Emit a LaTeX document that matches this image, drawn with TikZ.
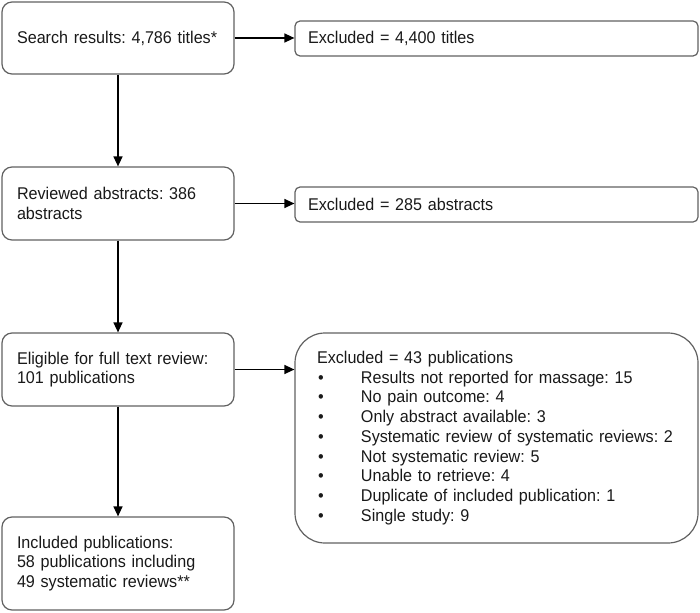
\documentclass[tikz,border=0pt]{standalone}
\usepackage{fontspec}
\setmainfont{Liberation Sans}[FakeStretch=0.95]
\usetikzlibrary{arrows.meta}
\begin{document}
\frenchspacing
\begin{tikzpicture}[x=1pt,y=-1pt,
  every node/.style={font=\fontsize{17}{19.7}\selectfont, text=black!90},
  mainbox/.style={draw=black!62, line width=1.2pt, rounded corners=10pt,
    minimum width=232pt, text width=202pt, inner xsep=15pt, align=left},
  exbox/.style={draw=black!62, line width=1.2pt, rounded corners=5pt,
    minimum width=403pt, minimum height=35pt, text width=377pt, inner xsep=13pt, align=left},
  bigbox/.style={draw=black!62, line width=1.2pt, rounded corners=30pt,
    minimum width=403pt, minimum height=210pt, text width=359pt, inner xsep=22pt, align=left},
  arr/.style={draw=black, line width=1.4pt, -{Triangle[length=10pt,width=9pt]}}
]
\useasboundingbox (0,0) rectangle (700,612);
\node[mainbox, minimum height=72pt] (b1) at (118,38) {Search results: 4,786 titles*};
\node[mainbox, minimum height=73pt] (b2) at (118,203.5) {Reviewed abstracts: 386\\abstracts};
\node[mainbox, minimum height=73pt] (b3) at (118,369.5) {Eligible for full text review:\\101 publications};
\node[mainbox, minimum height=93pt] (b4) at (118,563.5) {Included publications:\\58 publications including\\49 systematic reviews**};
\node[exbox] (e1) at (496.5,38.5) {Excluded = 4,400 titles};
\node[exbox] (e2) at (496.5,204.5) {Excluded = 285 abstracts};
\node[bigbox] (e3) at (496.5,438) {Excluded = 43 publications\\
\hspace*{1pt}\makebox[43pt][l]{•}Results not reported for massage: 15\\
\hspace*{1pt}\makebox[43pt][l]{•}No pain outcome: 4\\
\hspace*{1pt}\makebox[43pt][l]{•}Only abstract available: 3\\
\hspace*{1pt}\makebox[43pt][l]{•}Systematic review of systematic reviews: 2\\
\hspace*{1pt}\makebox[43pt][l]{•}Not systematic review: 5\\
\hspace*{1pt}\makebox[43pt][l]{•}Unable to retrieve: 4\\
\hspace*{1pt}\makebox[43pt][l]{•}Duplicate of included publication: 1\\
\hspace*{1pt}\makebox[43pt][l]{•}Single study: 9};
\draw[arr] (b1.south) -- (b2.north);
\draw[arr] (b2.south) -- (b3.north);
\draw[arr] (b3.south) -- (b4.north);
\draw[arr] (b1.east) -- (b1.east -| e1.west);
\draw[arr] (b2.east) -- (b2.east -| e2.west);
\draw[arr] (b3.east) -- (b3.east -| e3.west);
\end{tikzpicture}
\end{document}
